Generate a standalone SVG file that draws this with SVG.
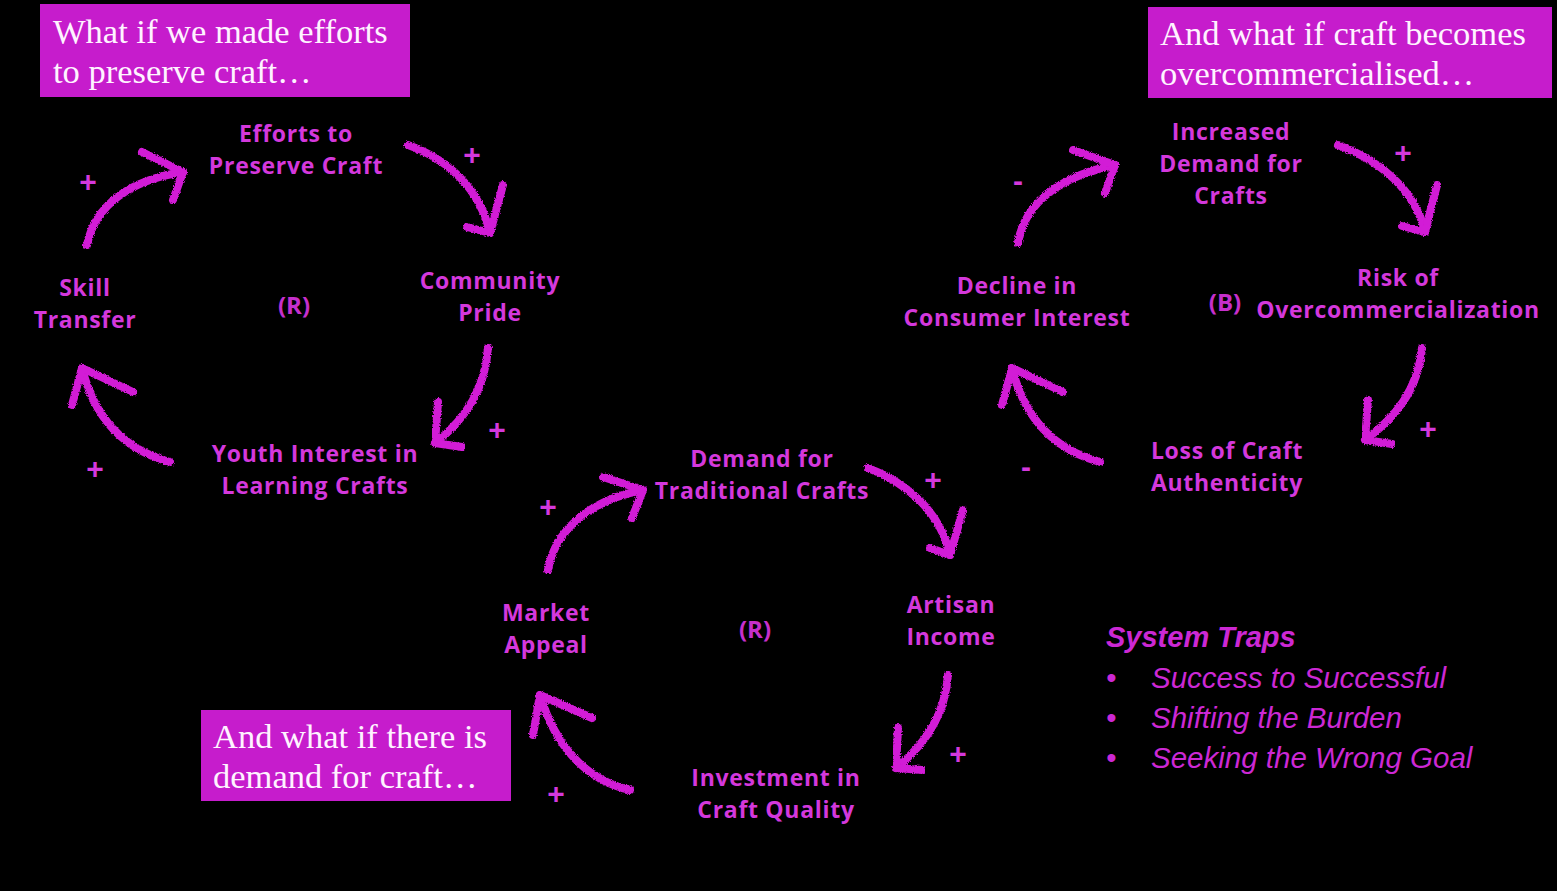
<svg xmlns="http://www.w3.org/2000/svg" width="1557" height="891" viewBox="0 0 1557 891">
<defs>
<filter id="chalk" x="-10%" y="-10%" width="120%" height="120%">
<feTurbulence type="fractalNoise" baseFrequency="0.9" numOctaves="2" seed="3" result="n"/>
<feDisplacementMap in="SourceGraphic" in2="n" scale="3.5" xChannelSelector="R" yChannelSelector="G"/>
</filter>
</defs>
<style>
.bg{fill:#000}
.box{fill:#c61ccc}
.bt{font-family:"Liberation Serif","DejaVu Serif",serif;font-size:34.5px;fill:#fff3ff}
.nl{font-family:"Open Sans","Liberation Sans",sans-serif;font-weight:700;font-size:23px;letter-spacing:0.7px;fill:#d438dc;text-anchor:middle}
.lp{font-family:"Open Sans","Liberation Sans",sans-serif;font-weight:700;font-size:24px;fill:#c62fcc;text-anchor:middle}
.sg{font-family:"Liberation Sans",sans-serif;font-weight:700;font-size:30px;fill:#d438dc;text-anchor:middle}
.ar{fill:none;stroke:#d21ad6;stroke-width:8;stroke-linecap:round;stroke-linejoin:round;filter:url(#chalk)}
.st{font-family:"Liberation Sans","DejaVu Sans",sans-serif;font-style:italic;font-size:29.5px;fill:#cc28d4}
.stb{font-family:"Liberation Sans","DejaVu Sans",sans-serif;font-style:italic;font-weight:700;font-size:29px;fill:#cc28d4}
</style>
<rect class="bg" x="0" y="0" width="1557" height="891"/>

<g id="box-preserve">
<rect class="box" x="40" y="4" width="370" height="93"/>
<text class="bt" x="53" y="43">What if we made efforts</text>
<text class="bt" x="53" y="83">to preserve craft…</text>
</g>
<g id="box-overcommercialised">
<rect class="box" x="1148" y="7" width="404" height="91"/>
<text class="bt" x="1160" y="45">And what if craft becomes</text>
<text class="bt" x="1160" y="85">overcommercialised…</text>
</g>
<g id="box-demand">
<rect class="box" x="201" y="710" width="310" height="91"/>
<text class="bt" x="213" y="748">And what if there is</text>
<text class="bt" x="213" y="788">demand for craft…</text>
</g>

<g id="n-efforts"><text class="nl" x="296" y="142">Efforts to</text><text class="nl" x="296" y="174">Preserve Craft</text></g>
<g id="n-community"><text class="nl" x="490" y="289">Community</text><text class="nl" x="490" y="321">Pride</text></g>
<g id="n-youth"><text class="nl" x="315" y="462">Youth Interest in</text><text class="nl" x="315" y="494">Learning Crafts</text></g>
<g id="n-skill"><text class="nl" x="85" y="296">Skill</text><text class="nl" x="85" y="328">Transfer</text></g>
<g id="loop-r1"><text class="lp" x="294" y="314">(R)</text></g>

<g id="n-demand-trad"><text class="nl" x="762" y="467">Demand for</text><text class="nl" x="762" y="499">Traditional Crafts</text></g>
<g id="n-artisan"><text class="nl" x="951" y="613">Artisan</text><text class="nl" x="951" y="645">Income</text></g>
<g id="n-investment"><text class="nl" x="776" y="786">Investment in</text><text class="nl" x="776" y="818">Craft Quality</text></g>
<g id="n-market"><text class="nl" x="546" y="621">Market</text><text class="nl" x="546" y="653">Appeal</text></g>
<g id="loop-r2"><text class="lp" x="755" y="638">(R)</text></g>

<g id="n-increased"><text class="nl" x="1231" y="140">Increased</text><text class="nl" x="1231" y="172">Demand for</text><text class="nl" x="1231" y="204">Crafts</text></g>
<g id="n-risk"><text class="nl" x="1398" y="286">Risk of</text><text class="nl" x="1398" y="318">Overcommercialization</text></g>
<g id="n-loss"><text class="nl" x="1227" y="459">Loss of Craft</text><text class="nl" x="1227" y="491">Authenticity</text></g>
<g id="n-decline"><text class="nl" x="1017" y="294">Decline in</text><text class="nl" x="1017" y="326">Consumer Interest</text></g>
<g id="loop-b"><text class="lp" x="1225" y="311">(B)</text></g>

<g id="connectors">
<path class="ar" d="M87,245 C95,205 130,180 183,172"/>
<path class="ar" d="M142,152 L183,172 L173,200"/>
<path class="ar" d="M408,145 C450,160 480,190 490,233"/>
<path class="ar" d="M503,185 L490,233 L467,227"/>
<path class="ar" d="M488,348 C485,390 465,420 435,443"/>
<path class="ar" d="M438,402 L435,443 L462,447"/>
<path class="ar" d="M170,462 C125,450 95,420 82,368"/>
<path class="ar" d="M72,405 L82,368 L133,392"/>
<path class="ar" d="M548,570 C555,530 590,500 643,490"/>
<path class="ar" d="M603,477 L643,490 L632,518"/>
<path class="ar" d="M868,468 C905,482 940,510 950,555"/>
<path class="ar" d="M963,510 L950,555 L930,548"/>
<path class="ar" d="M948,675 C945,715 925,745 896,768"/>
<path class="ar" d="M898,728 L896,768 L922,770"/>
<path class="ar" d="M630,790 C585,780 555,745 540,695"/>
<path class="ar" d="M533,735 L540,695 L592,718"/>
<path class="ar" d="M1018,243 C1025,200 1065,175 1115,165"/>
<path class="ar" d="M1073,150 L1115,165 L1105,193"/>
<path class="ar" d="M1338,145 C1380,160 1415,190 1425,232"/>
<path class="ar" d="M1437,185 L1425,232 L1402,226"/>
<path class="ar" d="M1422,348 C1418,390 1395,418 1365,440"/>
<path class="ar" d="M1368,400 L1365,440 L1392,444"/>
<path class="ar" d="M1100,462 C1055,450 1025,420 1012,368"/>
<path class="ar" d="M1002,405 L1012,368 L1063,392"/>
</g>

<g id="signs">
<text class="sg" x="88" y="192">+</text>
<text class="sg" x="472" y="165">+</text>
<text class="sg" x="497" y="440">+</text>
<text class="sg" x="95" y="479">+</text>
<text class="sg" x="548" y="517">+</text>
<text class="sg" x="933" y="490">+</text>
<text class="sg" x="958" y="764">+</text>
<text class="sg" x="556" y="804">+</text>
<text class="sg" x="1018" y="191">-</text>
<text class="sg" x="1403" y="163">+</text>
<text class="sg" x="1428" y="439">+</text>
<text class="sg" x="1026" y="477">-</text>
</g>

<g id="system-traps">
<text class="stb" x="1106" y="647">System Traps</text>
<text class="st" x="1106" y="688">•</text>
<text class="st" x="1151" y="688">Success to Successful</text>
<text class="st" x="1106" y="728">•</text>
<text class="st" x="1151" y="728">Shifting the Burden</text>
<text class="st" x="1106" y="768">•</text>
<text class="st" x="1151" y="768">Seeking the Wrong Goal</text>
</g>
</svg>
